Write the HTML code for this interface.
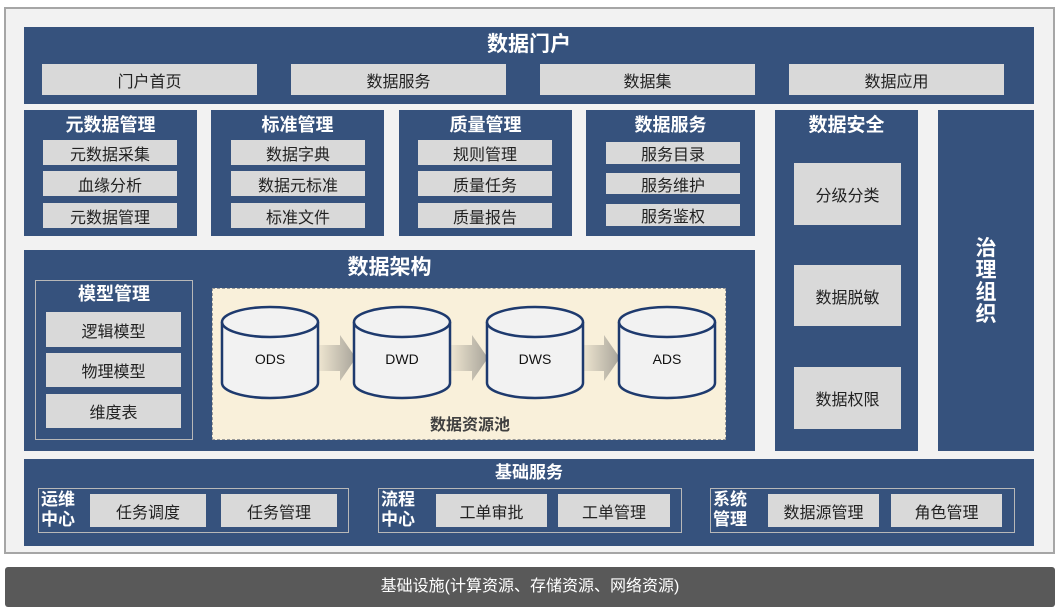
<!DOCTYPE html>
<html><head><meta charset="utf-8"><style>
*{margin:0;padding:0;box-sizing:border-box}
body{width:1059px;height:610px;background:#fff;position:relative;overflow:hidden;font-family:"Liberation Sans","Noto Sans CJK SC",sans-serif}
div{position:absolute}
.n{background:#36527d}
.t{color:#fff;font-weight:bold;text-align:center;font-size:18px;line-height:20px}
.b{background:#d9d9d9;color:#222;text-align:center;font-size:16px;display:flex;align-items:center;justify-content:center}
.g{border:1px solid #b8b8b8}
.gl{color:#fff;font-weight:bold;font-size:17px;line-height:20px}
</style></head><body>
<div style="left:4px;top:7px;width:1051px;height:547px;background:#f2f2f2;border:2px solid #a6a6a6"></div>
<div style="left:5px;top:567px;width:1050px;height:40px;background:#595959;border-radius:3px;color:#fff;font-size:16px;text-align:center;line-height:40px">基础设施(计算资源、存储资源、网络资源)</div>

<div class="n" style="left:24px;top:27px;width:1010px;height:77px"></div>
<div class="t" style="left:24px;top:34px;width:1010px;font-size:21px;line-height:22px">数据门户</div>
<div class="b" style="left:42px;top:64px;width:215px;height:31px">门户首页</div>
<div class="b" style="left:291px;top:64px;width:215px;height:31px">数据服务</div>
<div class="b" style="left:540px;top:64px;width:215px;height:31px">数据集</div>
<div class="b" style="left:789px;top:64px;width:215px;height:31px">数据应用</div>

<div class="n" style="left:24px;top:110px;width:173px;height:126px"></div>
<div class="t" style="left:24px;top:115px;width:173px">元数据管理</div>
<div class="b" style="left:43px;top:140px;width:134px;height:25px">元数据采集</div>
<div class="b" style="left:43px;top:171px;width:134px;height:25px">血缘分析</div>
<div class="b" style="left:43px;top:203px;width:134px;height:25px">元数据管理</div>

<div class="n" style="left:211px;top:110px;width:173px;height:126px"></div>
<div class="t" style="left:211px;top:115px;width:173px">标准管理</div>
<div class="b" style="left:231px;top:140px;width:134px;height:25px">数据字典</div>
<div class="b" style="left:231px;top:171px;width:134px;height:25px">数据元标准</div>
<div class="b" style="left:231px;top:203px;width:134px;height:25px">标准文件</div>

<div class="n" style="left:399px;top:110px;width:173px;height:126px"></div>
<div class="t" style="left:399px;top:115px;width:173px">质量管理</div>
<div class="b" style="left:418px;top:140px;width:134px;height:25px">规则管理</div>
<div class="b" style="left:418px;top:171px;width:134px;height:25px">质量任务</div>
<div class="b" style="left:418px;top:203px;width:134px;height:25px">质量报告</div>

<div class="n" style="left:586px;top:110px;width:169px;height:126px"></div>
<div class="t" style="left:586px;top:115px;width:169px">数据服务</div>
<div class="b" style="left:606px;top:142px;width:134px;height:22px">服务目录</div>
<div class="b" style="left:606px;top:173px;width:134px;height:21px">服务维护</div>
<div class="b" style="left:606px;top:204px;width:134px;height:22px">服务鉴权</div>

<div class="n" style="left:775px;top:110px;width:143px;height:341px"></div>
<div class="t" style="left:775px;top:116px;width:143px;font-size:19px">数据安全</div>
<div class="b" style="left:794px;top:163px;width:107px;height:62px">分级分类</div>
<div class="b" style="left:794px;top:265px;width:107px;height:61px">数据脱敏</div>
<div class="b" style="left:794px;top:367px;width:107px;height:62px">数据权限</div>

<div class="n" style="left:938px;top:110px;width:96px;height:341px"></div>
<div class="t" style="left:938px;top:238px;width:96px;font-size:21px;line-height:22px">治<br>理<br>组<br>织</div>

<div class="n" style="left:24px;top:250px;width:731px;height:201px"></div>
<div class="t" style="left:24px;top:257px;width:731px;font-size:21px;line-height:22px">数据架构</div>
<div class="g" style="left:35px;top:280px;width:158px;height:160px"></div>
<div class="t" style="left:35px;top:284px;width:158px">模型管理</div>
<div class="b" style="left:46px;top:312px;width:135px;height:35px">逻辑模型</div>
<div class="b" style="left:46px;top:353px;width:135px;height:34px">物理模型</div>
<div class="b" style="left:46px;top:394px;width:135px;height:34px">维度表</div>

<div style="left:212px;top:288px;width:514px;height:152px;background:#f9f0da;border:1px dashed #9a9a9a"></div>
<svg style="position:absolute;left:0;top:0" width="1059" height="610">
<defs><linearGradient id="ar" x1="0" x2="1"><stop offset="0" stop-color="#f3ead4"/><stop offset="1" stop-color="#a8a49a"/></linearGradient></defs>
<g fill="url(#ar)">
<polygon points="316,345 340,345 340,335 356,358 340,381 340,371 316,371"/>
<polygon points="448,345 472,345 472,335 488,358 472,381 472,371 448,371"/>
<polygon points="580,345 604,345 604,335 620,358 604,381 604,371 580,371"/>
</g>
<g fill="#f2f2f2" stroke="#1e3a6e" stroke-width="2.5" font-family="Liberation Sans,sans-serif" font-size="14">
<g transform="translate(222,0)"><path d="M0,322 V383 A48,15 0 0 0 96,383 V322"/><ellipse cx="48" cy="322" rx="48" ry="15"/><text x="48" y="364" text-anchor="middle" fill="#111" stroke="none">ODS</text></g>
<g transform="translate(354,0)"><path d="M0,322 V383 A48,15 0 0 0 96,383 V322"/><ellipse cx="48" cy="322" rx="48" ry="15"/><text x="48" y="364" text-anchor="middle" fill="#111" stroke="none">DWD</text></g>
<g transform="translate(487,0)"><path d="M0,322 V383 A48,15 0 0 0 96,383 V322"/><ellipse cx="48" cy="322" rx="48" ry="15"/><text x="48" y="364" text-anchor="middle" fill="#111" stroke="none">DWS</text></g>
<g transform="translate(619,0)"><path d="M0,322 V383 A48,15 0 0 0 96,383 V322"/><ellipse cx="48" cy="322" rx="48" ry="15"/><text x="48" y="364" text-anchor="middle" fill="#111" stroke="none">ADS</text></g>
</g>
</svg>
<div style="left:400px;top:416px;width:140px;text-align:center;font-size:16px;font-weight:bold;color:#404040;line-height:20px">数据资源池</div>

<div class="n" style="left:24px;top:459px;width:1010px;height:87px"></div>
<div class="t" style="left:24px;top:463px;width:1010px;font-size:17px">基础服务</div>
<div class="g" style="left:38px;top:488px;width:311px;height:45px"></div>
<div class="gl" style="left:41px;top:490px">运维<br>中心</div>
<div class="b" style="left:90px;top:494px;width:116px;height:33px">任务调度</div>
<div class="b" style="left:221px;top:494px;width:116px;height:33px">任务管理</div>
<div class="g" style="left:378px;top:488px;width:304px;height:45px"></div>
<div class="gl" style="left:381px;top:490px">流程<br>中心</div>
<div class="b" style="left:436px;top:494px;width:111px;height:33px">工单审批</div>
<div class="b" style="left:558px;top:494px;width:112px;height:33px">工单管理</div>
<div class="g" style="left:710px;top:488px;width:305px;height:45px"></div>
<div class="gl" style="left:713px;top:490px">系统<br>管理</div>
<div class="b" style="left:768px;top:494px;width:111px;height:33px">数据源管理</div>
<div class="b" style="left:891px;top:494px;width:111px;height:33px">角色管理</div>
</body></html>
